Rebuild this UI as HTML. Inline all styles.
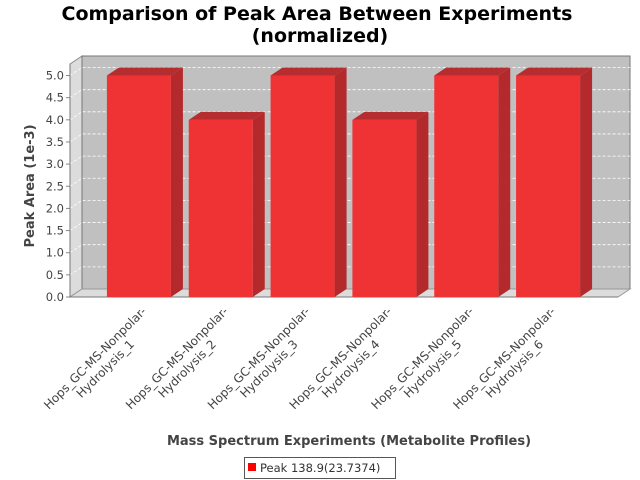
<!DOCTYPE html>
<html><head><meta charset="utf-8"><style>
body{margin:0;background:#fff;}
svg{display:block;font-family:"DejaVu Sans","Liberation Sans",sans-serif;}
</style></head><body>
<svg width="640" height="480" viewBox="0 0 640 480">
<text x="317" y="20" text-anchor="middle" font-size="19" font-weight="bold" fill="#000">Comparison of Peak Area Between Experiments</text>
<text x="320" y="42" text-anchor="middle" font-size="19" font-weight="bold" fill="#000">(normalized)</text>
<g id="plot"></g>
<text transform="translate(34,186) rotate(-90)" text-anchor="middle" font-size="13" font-weight="bold" fill="#444">Peak Area (1e-3)</text>
<text x="349" y="445" text-anchor="middle" font-size="13" font-weight="bold" fill="#444">Mass Spectrum Experiments (Metabolite Profiles)</text>
<g>
<rect x="244.5" y="457.5" width="151" height="21" fill="#fff" stroke="#555"/>
<rect x="248" y="463" width="8" height="8" fill="#f00"/>
<text x="260" y="472" font-size="11.5" fill="#333">Peak 138.9(23.7374)</text>
</g>
</svg>
<script>
const categories = ["Hops_GC-MS-Nonpolar-Hydrolysis_1","Hops_GC-MS-Nonpolar-Hydrolysis_2","Hops_GC-MS-Nonpolar-Hydrolysis_3","Hops_GC-MS-Nonpolar-Hydrolysis_4","Hops_GC-MS-Nonpolar-Hydrolysis_5","Hops_GC-MS-Nonpolar-Hydrolysis_6"];
const values = [5.0, 4.0, 5.0, 4.0, 5.0, 5.0];
const yTicks = [0.0,0.5,1.0,1.5,2.0,2.5,3.0,3.5,4.0,4.5,5.0];
const yMax = 5.26;

const NS="http://www.w3.org/2000/svg";
const g=document.getElementById('plot');
const L=70,R=618,B=297,T=64,DX=12,DY=8;
const marginL=28,marginR=29;
function y(v){return B-(v/yMax)*(B-T);}
const cw=(R-L-marginL-marginR)/categories.length;
function xc(i){return L+marginL+cw*(i+0.5);}
function mk(tag,attrs,parent){const e=document.createElementNS(NS,tag);for(const k in attrs)e.setAttribute(k,attrs[k]);(parent||g).appendChild(e);return e;}
let e;
e=mk('polygon',{points:`${L},${T} ${L+DX},${T-DY} ${L+DX},${B-DY} ${L},${B}`,fill:'#dcdcdc',stroke:'#888'});


e=mk('rect',{x:L+DX,y:T-DY,width:R-L,height:B-T,fill:'#c0c0c0',stroke:'#777'});


e=mk('polygon',{points:`${L},${B} ${L+DX},${B-DY} ${R+DX},${B-DY} ${R},${B}`,fill:'#dcdcdc',stroke:'#999'});


yTicks.forEach(t=>{
  const yy=y(t);
  if(t>0){
    const gl=mk('polyline',{points:`${L},${yy} ${L+DX},${yy-DY} ${R+DX},${yy-DY}`,fill:'none',stroke:'#fff','stroke-dasharray':'3,2','stroke-width':'0.8'});
    
    
  }
  const tk=mk('line',{x1:L-4,y1:yy,x2:L,y2:yy,stroke:'#888'});
  
  
  const tl=mk('text',{x:L-6,y:yy+4,'text-anchor':'end','font-size':'11.5',fill:'#444'});
  tl.textContent=t.toFixed(1);
  
  
});
mk('line',{x1:L,y1:T,x2:L,y2:B,stroke:'#777'});
mk('line',{x1:L,y1:B,x2:R,y2:B,stroke:'#777'});
const bw=64;
values.forEach((v,i)=>{
  const x0=xc(i)-bw/2,x1=x0+bw,yt=y(v);
  const grp=mk('g',{});
  
  
  mk('polygon',{points:`${x1},${yt} ${x1+DX},${yt-DY} ${x1+DX},${B-DY} ${x1},${B}`,fill:'#b42a2c'},grp);
  mk('polygon',{points:`${x0},${yt} ${x0+DX},${yt-DY} ${x1+DX},${yt-DY} ${x1},${yt}`,fill:'#b52d2f'},grp);
  mk('rect',{x:x0,y:yt,width:bw,height:B-yt,fill:'#ef3234'},grp);
  const parts=categories[i].split('-Hydrolysis');
  const lines=[parts[0]+'-','Hydrolysis'+parts[1]];
  const ax=xc(i)+8,ay=312;
  const t1=mk('text',{x:ax,y:ay,'text-anchor':'end','font-size':'12',fill:'#444',transform:`rotate(-45 ${ax} ${ay})`});
  t1.textContent=lines[0];
  
  
  const bx=ax-12,by=ay+33;
  const t2=mk('text',{x:bx,y:by,'text-anchor':'end','font-size':'12',fill:'#444',transform:`rotate(-45 ${bx} ${by})`});
  t2.textContent=lines[1];
  
  
});
</script>
</body></html>
